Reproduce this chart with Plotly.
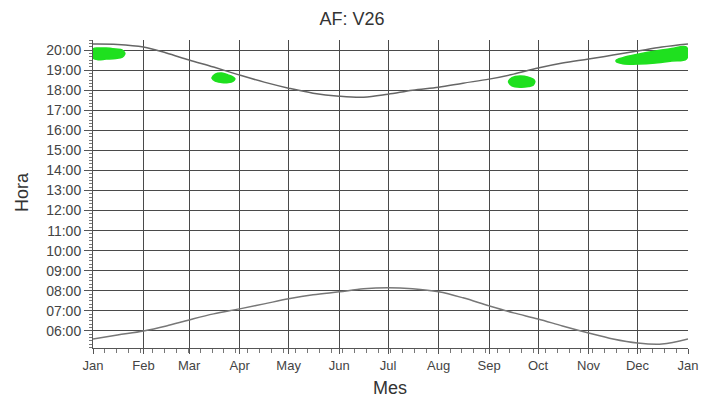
import plotly.graph_objects as go

# --- data ---
month_labels = ["Jan", "Feb", "Mar", "Apr", "May", "Jun", "Jul", "Aug", "Sep", "Oct", "Nov", "Dec", "Jan"]
month_days = [0, 31, 59, 90, 120, 151, 181, 212, 243, 273, 304, 334, 365]

hour_vals = [6, 7, 8, 9, 10, 11, 12, 13, 14, 15, 16, 17, 18, 19, 20]
hour_labels = ["06:00", "07:00", "08:00", "09:00", "10:00", "11:00", "12:00", "13:00",
               "14:00", "15:00", "16:00", "17:00", "18:00", "19:00", "20:00"]

curve_days = [0, 15, 31, 45, 59, 74, 90, 105, 120, 135, 151, 166, 181, 196, 212, 227,
              243, 258, 273, 288, 304, 319, 334, 349, 365]
sunset_h = [20.30, 20.28, 20.15, 19.85, 19.50, 19.15, 18.75, 18.40, 18.10, 17.85, 17.70,
            17.65, 17.80, 18.00, 18.15, 18.35, 18.55, 18.80, 19.10, 19.35, 19.55, 19.75,
            19.95, 20.15, 20.30]
sunrise_h = [5.60, 5.80, 6.00, 6.25, 6.55, 6.85, 7.10, 7.35, 7.60, 7.80, 7.95, 8.10,
             8.15, 8.10, 7.95, 7.65, 7.25, 6.90, 6.60, 6.25, 5.90, 5.60, 5.40, 5.35, 5.60]

# green event regions: days, upper hour, lower hour
ev1_days = [0, 3, 8, 14, 18, 19.5]
ev1_hi = [20.05, 20.10, 20.10, 20.05, 20.00, 19.85]
ev1_lo = [19.60, 19.52, 19.55, 19.58, 19.65, 19.80]

ev2_days = [73, 75, 79, 83, 86, 87]
ev2_hi = [18.62, 18.80, 18.85, 18.75, 18.65, 18.58]
ev2_lo = [18.60, 18.45, 18.38, 18.38, 18.45, 18.55]

ev3_days = [255, 257, 262, 267, 270, 271]
ev3_hi = [18.45, 18.62, 18.70, 18.65, 18.55, 18.45]
ev3_lo = [18.40, 18.22, 18.15, 18.18, 18.25, 18.40]

ev4_days = [321, 325, 335, 345, 355, 364]
ev4_hi = [19.50, 19.62, 19.80, 19.95, 20.08, 20.15]
ev4_lo = [19.42, 19.32, 19.30, 19.35, 19.45, 19.55]

events = [(ev1_days, ev1_hi, ev1_lo), (ev2_days, ev2_hi, ev2_lo),
          (ev3_days, ev3_hi, ev3_lo), (ev4_days, ev4_hi, ev4_lo)]

# page body has an 8px margin; figure is sized/positioned to compensate
OFF = 8
W, H = 714 - OFF, 404 - OFF
ML, MR, MT, MB = 93 - OFF, 26, 40 - OFF, 56
PW, PH = W - ML - MR, H - MT - MB

fig = go.Figure()

for d, hi, lo in events:
    fig.add_trace(go.Scatter(
        x=list(d) + list(d)[::-1] + [d[0]],
        y=list(hi) + list(lo)[::-1] + [hi[0]],
        mode="lines", fill="toself", fillcolor="#1fe01f",
        line=dict(color="#1fe01f", width=1.5, shape="spline"),
        hoverinfo="skip", showlegend=False))

fig.add_trace(go.Scatter(x=curve_days, y=sunset_h, mode="lines",
                         line=dict(color="#666666", width=1.5, shape="spline"),
                         showlegend=False))
fig.add_trace(go.Scatter(x=curve_days, y=sunrise_h, mode="lines",
                         line=dict(color="#777777", width=1.5, shape="spline"),
                         showlegend=False))

fig.update_layout(
    width=W, height=H,
    margin=dict(l=ML, r=MR, t=MT, b=MB, autoexpand=False),
    paper_bgcolor="white", plot_bgcolor="white",
    font=dict(family="Liberation Sans, Arial, sans-serif", color="#333333"),
    title=dict(text="AF: V26", x=(352 - OFF) / W, xref="container",
               y=1 - (19 - OFF) / H, yref="container",
               xanchor="center", yanchor="middle",
               font=dict(size=18, color="#333333")),
    showlegend=False,
    annotations=[
        dict(text="Mes", x=(390 - 93) / PW, y=1 - (388 - 40) / PH, xref="paper", yref="paper",
             xanchor="center", yanchor="middle",
             showarrow=False, font=dict(size=18, color="#333333")),
        dict(text="Hora", x=(22 - 93) / PW, y=1 - (192 - 40) / PH, xref="paper", yref="paper",
             xanchor="center", yanchor="middle",
             showarrow=False, textangle=-90, font=dict(size=18, color="#333333")),
    ],
)

fig.update_xaxes(
    range=[0, 365], tickvals=month_days, ticktext=month_labels,
    showgrid=True, gridcolor="#4a4a4a", gridwidth=1.3,
    zeroline=False, showline=True, linecolor="#555555", linewidth=1,
    ticks="outside", ticklen=5, tickcolor="#555555", automargin=False,
    tickfont=dict(size=13, color="#444444"),
    minor=dict(dtick=7.3, tick0=0, ticks="outside", ticklen=4, tickcolor="#777777", showgrid=False),
)
fig.update_yaxes(
    range=[5.15, 20.5], tickvals=hour_vals, ticktext=hour_labels,
    showgrid=True, gridcolor="#4a4a4a", gridwidth=1.3,
    zeroline=False, showline=True, linecolor="#555555", linewidth=1,
    ticks="outside", ticklen=8, tickcolor="#555555", automargin=False,
    tickfont=dict(size=14, color="#444444"),
    minor=dict(dtick=1/6, tick0=0, ticks="outside", ticklen=3, tickcolor="#777777", showgrid=False),
)

fig.write_html("out.html")
